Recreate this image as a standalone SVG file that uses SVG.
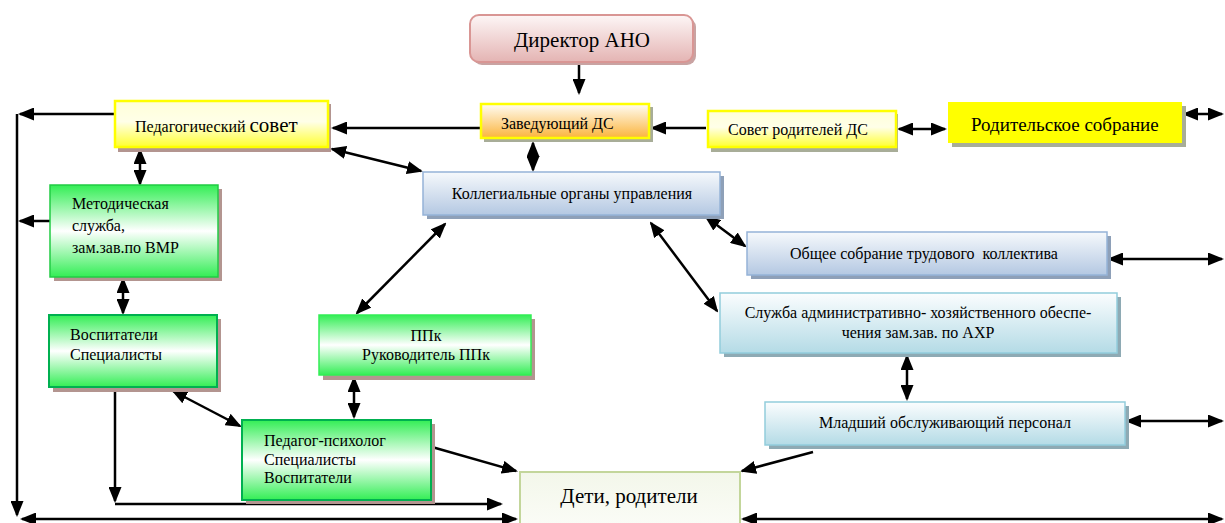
<svg xmlns="http://www.w3.org/2000/svg" width="1225" height="523" viewBox="0 0 1225 523">
<defs>
<style>
text{font-family:"Times New Roman","Liberation Serif","DejaVu Serif","Noto Serif",Tinos,serif;fill:#000;}
.t13{font-size:16px;}
.c{text-anchor:middle;}
.ln{stroke:#000;stroke-width:2.5;fill:none;}
.sh-br{fill:#b39590;}
.sh-gy{fill:#a8ad98;}
.sh-bl{fill:#8ea0b8;}
.sh-cy{fill:#8eaab4;}
</style>
<marker id="ah" viewBox="0 0 16 13" refX="14" refY="6.5" markerWidth="16" markerHeight="13" markerUnits="userSpaceOnUse" orient="auto-start-reverse"><path d="M0,0 L16,6.5 L0,13 z" fill="#000"/></marker>
<linearGradient id="gPink" x1="0" y1="0" x2="0" y2="1"><stop offset="0" stop-color="#fdf6f6"/><stop offset="1" stop-color="#e4b4b3"/></linearGradient>
<linearGradient id="gYel" x1="0" y1="0" x2="0" y2="1"><stop offset="0" stop-color="#ffffd8"/><stop offset="0.45" stop-color="#ffffe8"/><stop offset="1" stop-color="#ffff30"/></linearGradient>
<linearGradient id="gOr" x1="0" y1="0" x2="0" y2="1"><stop offset="0" stop-color="#fffdf5"/><stop offset="1" stop-color="#fbb43c"/></linearGradient>
<linearGradient id="gGr" x1="0" y1="0" x2="0" y2="1"><stop offset="0" stop-color="#33ee55"/><stop offset="0.5" stop-color="#ffffff"/><stop offset="1" stop-color="#33ee55"/></linearGradient>
<linearGradient id="gBl" x1="0" y1="0" x2="0" y2="1"><stop offset="0" stop-color="#f6f9fc"/><stop offset="1" stop-color="#b4c8e2"/></linearGradient>
<linearGradient id="gCy" x1="0" y1="0" x2="0" y2="1"><stop offset="0" stop-color="#fbfdfe"/><stop offset="1" stop-color="#b4dbe6"/></linearGradient>
<linearGradient id="gKid" x1="0" y1="0" x2="0" y2="1"><stop offset="0" stop-color="#f3f7ea"/><stop offset="1" stop-color="#fbfcf7"/></linearGradient>
</defs>

<g id="connectors" class="ln">
<line x1="579" y1="62" x2="579" y2="93" marker-end="url(#ah)"/>
<line x1="480" y1="128" x2="333" y2="128" marker-end="url(#ah)"/>
<line x1="114" y1="114" x2="20" y2="114" marker-end="url(#ah)"/>
<line x1="17" y1="114" x2="17" y2="515" marker-end="url(#ah)"/>
<line x1="22" y1="519" x2="516" y2="519" marker-start="url(#ah)" marker-end="url(#ah)"/>
<line x1="743" y1="519" x2="1222" y2="519" marker-start="url(#ah)" marker-end="url(#ah)"/>
<line x1="140" y1="150" x2="140" y2="184" marker-start="url(#ah)" marker-end="url(#ah)"/>
<line x1="50" y1="221" x2="20" y2="221" marker-end="url(#ah)"/>
<line x1="123" y1="279" x2="123" y2="313" marker-start="url(#ah)" marker-end="url(#ah)"/>
<line x1="115" y1="387" x2="115" y2="501" marker-end="url(#ah)"/>
<line x1="115" y1="504" x2="501" y2="504" marker-end="url(#ah)"/>
<line x1="173" y1="391" x2="240" y2="426" marker-start="url(#ah)" marker-end="url(#ah)"/>
<line x1="432" y1="447" x2="516" y2="471" marker-end="url(#ah)"/>
<line x1="354" y1="378" x2="354" y2="417" marker-start="url(#ah)" marker-end="url(#ah)"/>
<line x1="445" y1="224" x2="357" y2="313" marker-start="url(#ah)" marker-end="url(#ah)"/>
<line x1="533" y1="143" x2="533" y2="170" marker-start="url(#ah)" marker-end="url(#ah)"/>
<line x1="332" y1="149" x2="421" y2="171" marker-start="url(#ah)" marker-end="url(#ah)"/>
<line x1="706" y1="128" x2="652" y2="128" marker-end="url(#ah)"/>
<line x1="899" y1="129" x2="945" y2="129" marker-start="url(#ah)" marker-end="url(#ah)"/>
<line x1="1184" y1="114" x2="1222" y2="114" marker-start="url(#ah)" marker-end="url(#ah)"/>
<line x1="706" y1="217" x2="745" y2="246" marker-start="url(#ah)" marker-end="url(#ah)"/>
<line x1="1109" y1="259" x2="1222" y2="259" marker-start="url(#ah)" marker-end="url(#ah)"/>
<line x1="651" y1="223" x2="717" y2="311" marker-start="url(#ah)" marker-end="url(#ah)"/>
<line x1="907" y1="356" x2="907" y2="399" marker-start="url(#ah)" marker-end="url(#ah)"/>
<line x1="1127" y1="421" x2="1222" y2="421" marker-start="url(#ah)" marker-end="url(#ah)"/>
<line x1="813" y1="452" x2="742" y2="471" marker-end="url(#ah)"/>
</g>

<g id="director">
<rect x="473" y="18" width="223" height="47" rx="9" fill="#c9a3a2"/>
<rect x="470" y="15" width="223" height="47" rx="9" fill="url(#gPink)" stroke="#d99694" stroke-width="2"/>
<text x="582" y="47" class="c" font-size="21">Директор АНО</text>
</g>

<g id="zaveduyushchiy">
<rect x="484" y="107" width="169" height="35" class="sh-gy"/>
<rect x="481" y="104" width="168" height="34" fill="url(#gOr)" stroke="#ffff00" stroke-width="2.5"/>
<text x="501" y="129" class="t13">Заведующий ДС</text>
</g>

<g id="ped-sovet">
<rect x="118" y="104" width="213" height="48" class="sh-br"/>
<rect x="115" y="101" width="213" height="46" fill="url(#gYel)" stroke="#ffff00" stroke-width="2.5"/>
<text x="135" y="132" class="t13">Педагогический <tspan font-size="21">совет</tspan></text>
</g>

<g id="sovet-roditeley">
<rect x="711" y="114" width="187" height="38" class="sh-gy"/>
<rect x="708" y="111" width="188" height="36" fill="url(#gYel)" stroke="#ffff00" stroke-width="2.5"/>
<text x="728" y="135" class="t13">Совет родителей ДС</text>
</g>

<g id="roditelskoe-sobranie">
<rect x="952" y="106" width="234" height="41" class="sh-gy"/>
<rect x="948" y="102" width="234" height="41" fill="#ffff00"/>
<text x="971" y="131" font-size="19">Родительское собрание</text>
</g>

<g id="kollegialnye">
<rect x="427" y="176" width="297" height="43" class="sh-bl"/>
<rect x="423" y="172" width="297" height="43" fill="url(#gBl)" stroke="#95b3d7" stroke-width="1.5"/>
<text x="572" y="199" class="t13 c">Коллегиальные органы управления</text>
</g>

<g id="metodicheskaya">
<rect x="54" y="189" width="168" height="92" class="sh-br"/>
<rect x="50" y="185" width="168" height="92" fill="url(#gGr)" stroke="#22cc44" stroke-width="1.5"/>
<text x="72" y="209" class="t13">Методическая</text>
<text x="72" y="231" class="t13">служба,</text>
<text x="72" y="253" class="t13">зам.зав.по ВМР</text>
</g>

<g id="vospitateli">
<rect x="53" y="319" width="168" height="73" class="sh-br"/>
<rect x="49" y="315" width="168" height="72" fill="url(#gGr)" stroke="#00b050" stroke-width="2"/>
<text x="70" y="340" class="t13">Воспитатели</text>
<text x="70" y="360" class="t13">Специалисты</text>
</g>

<g id="ppk">
<rect x="323" y="319" width="212" height="61" class="sh-br"/>
<rect x="319" y="315" width="212" height="60" fill="url(#gGr)" stroke="#33ee55" stroke-width="1.5"/>
<text x="426" y="341" class="t13 c">ППк</text>
<text x="426" y="360" class="t13 c">Руководитель ППк</text>
</g>

<g id="pedagog-psiholog">
<rect x="246" y="424" width="189" height="80" class="sh-br"/>
<rect x="242" y="420" width="189" height="80" fill="url(#gGr)" stroke="#00b050" stroke-width="2"/>
<text x="264" y="446" class="t13">Педагог-психолог</text>
<text x="264" y="465" class="t13">Специалисты</text>
<text x="264" y="483" class="t13">Воспитатели</text>
</g>

<g id="obshchee-sobranie">
<rect x="751" y="236" width="360" height="43" class="sh-bl"/>
<rect x="747" y="232" width="360" height="43" fill="url(#gBl)" stroke="#95b3d7" stroke-width="1.5"/>
<text x="924" y="259" class="t13 c" xml:space="preserve">Общее собрание трудового  коллектива</text>
</g>

<g id="sluzhba-ahr">
<rect x="724" y="297" width="397" height="60" class="sh-cy"/>
<rect x="720" y="293" width="397" height="60" fill="url(#gCy)" stroke="#92cddc" stroke-width="1.5"/>
<text x="918" y="318" class="t13 c">Служба административно- хозяйственного обеспе-</text>
<text x="918" y="338" class="t13 c">чения зам.зав. по АХР</text>
</g>

<g id="mladshiy">
<rect x="769" y="406" width="360" height="43" class="sh-cy"/>
<rect x="765" y="402" width="360" height="43" fill="url(#gCy)" stroke="#92cddc" stroke-width="1.5"/>
<text x="945" y="428" class="t13 c">Младший обслуживающий персонал</text>
</g>

<g id="deti">
<rect x="520" y="472" width="220" height="56" fill="url(#gKid)" stroke="#c3d69b" stroke-width="2"/>
<text x="629" y="503" class="c" font-size="21">Дети, родители</text>
</g>
</svg>
